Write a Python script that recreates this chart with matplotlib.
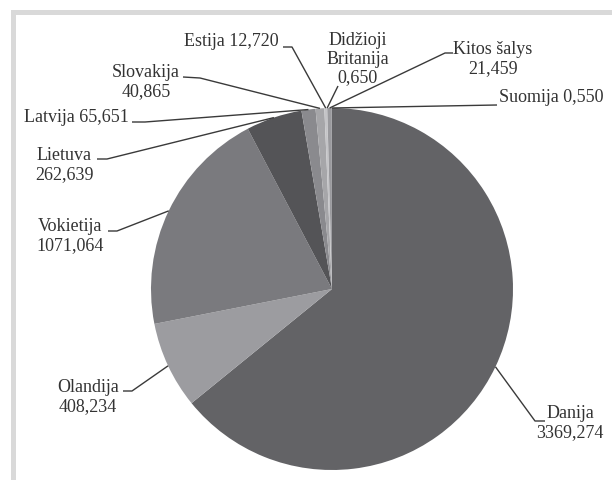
import numpy as np
import matplotlib
matplotlib.use("Agg")
import matplotlib.pyplot as plt
from matplotlib.patches import Rectangle

# data (clockwise from 12 o'clock)
countries = ["Danija", "Olandija", "Vokietija", "Lietuva", "Latvija", "Slovakija",
             "Estija", "Didžioji\nBritanija", "Kitos šalys", "Suomija"]
values = [3369.274, 408.234, 1071.064, 262.639, 65.651, 40.865,
          12.720, 0.650, 21.459, 0.550]
value_labels = ["3369,274", "408,234", "1071,064", "262,639", "65,651", "40,865",
                "12,720", "0,650", "21,459", "0,550"]
colors = ["#636366", "#9c9ca0", "#7a7a7e", "#545457", "#8a8a8e", "#a6a6a9",
          "#c4c4c7", "#d2d2d4", "#9a9a9e", "#bdbdc0"]

# label text: name and value on one line or two
one_line = [False, False, False, False, True, False, True, False, False, True]

# layout in pixels: text centre, elbow point, end of horizontal tick (None = no tick)
text_pos = [(570, 423), (88, 397), (70, 236), (64, 165), (76, 118), (146, 82),
            (231, 42), (358, 59), (493, 59), (551, 98)]
elbow = [(535, 422), (132, 392), (117, 232), (107, 160), (145, 123), (200, 79),
         (292, 48), (338, 87), (445, 54), (497, 106)]
tick_end = [(545, 422), (123, 392), (108, 232), (97, 160), (132, 123), (183, 78),
            (283, 48), None, (453, 54), None]

W, H = 612, 481
cx, cy, r = 332, 290, 181

plt.rcParams['font.family'] = ['Liberation Serif', 'DejaVu Serif']

fig = plt.figure(figsize=(W / 100, H / 100), dpi=100)
ax = fig.add_axes([0, 0, 1, 1])

# y axis points down, so start at -90 and go "counterclockwise" to run clockwise on screen
wedges, _ = ax.pie(values, colors=colors, startangle=-90, counterclock=True,
                   center=(cx, cy), radius=r, wedgeprops=dict(linewidth=0))

ax.set_aspect('auto')
ax.set_xlim(0, W)
ax.set_ylim(H, 0)
ax.axis('off')

# frame (cut off at right and bottom)
ax.add_patch(Rectangle((11, 11), W - 11, 5, color="#d9d9d9", lw=0))
ax.add_patch(Rectangle((11, 11), 5, H - 11, color="#d9d9d9", lw=0))

for i, w in enumerate(wedges):
    mid = np.deg2rad((w.theta1 + w.theta2) / 2)
    px, py = cx + r * np.cos(mid), cy + r * np.sin(mid)
    xs = [px, elbow[i][0]]
    ys = [py, elbow[i][1]]
    if tick_end[i] is not None:
        xs.append(tick_end[i][0])
        ys.append(tick_end[i][1])
    ax.plot(xs, ys, color="#3a3a3a", lw=1.0, solid_capstyle='butt')

    sep = " " if one_line[i] else "\n"
    ax.text(text_pos[i][0], text_pos[i][1], countries[i] + sep + value_labels[i],
            ha='center', va='center', multialignment='center', fontsize=13,
            color="#333333", linespacing=1.15)

fig.savefig("out.png", dpi=100, facecolor="white")
